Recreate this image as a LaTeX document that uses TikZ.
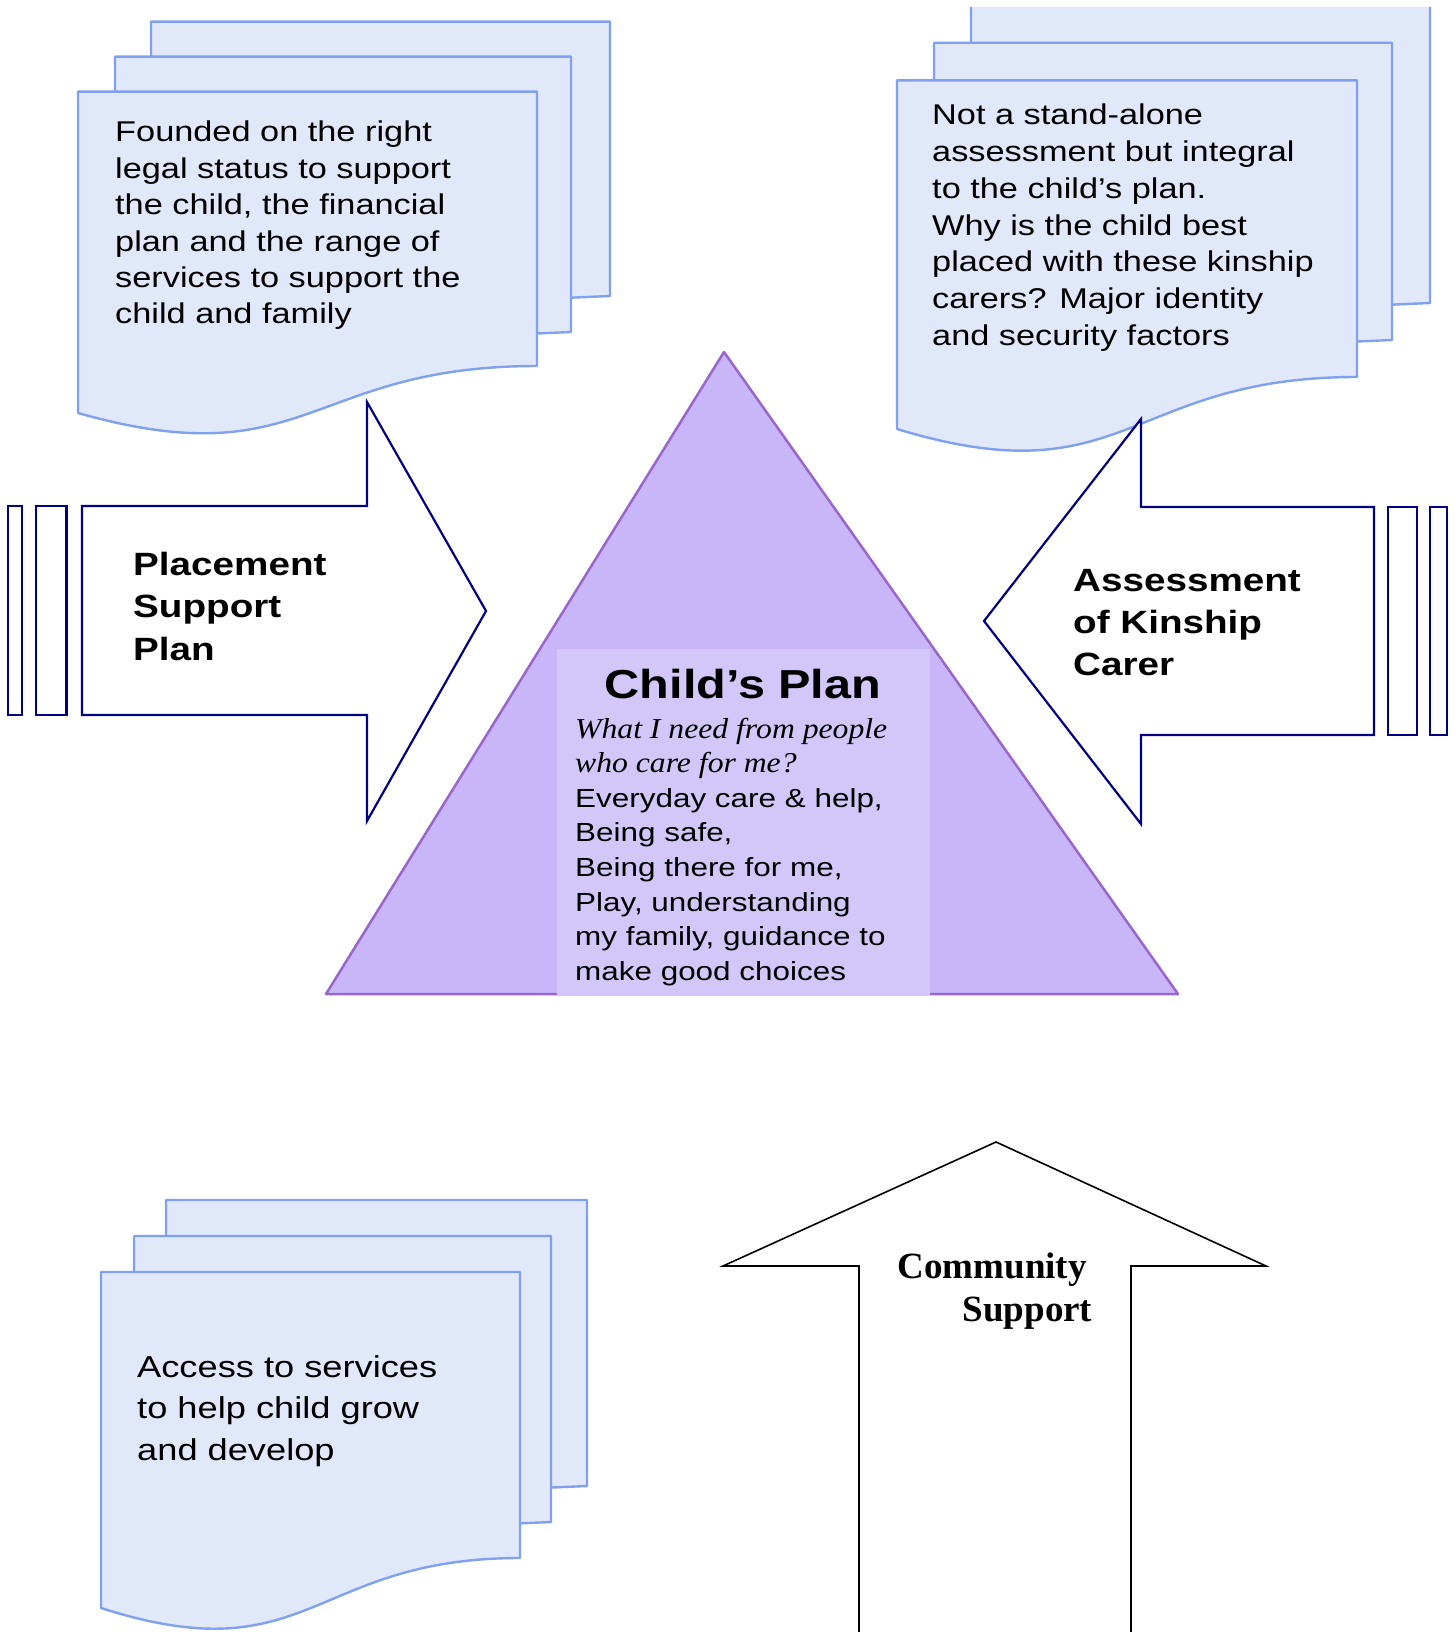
\documentclass[tikz,border=0pt]{standalone}
\usepackage{fontspec}
\newfontfamily\arialS[FakeStretch=1.2]{Liberation Sans}
\newfontfamily\timesI[FakeStretch=1.1]{Liberation Serif}
\newfontfamily\timesR{Liberation Serif}
\definecolor{docfill}{RGB}{225,232,250}
\definecolor{docline}{RGB}{128,160,240}
\definecolor{navyline}{RGB}{0,0,128}
\definecolor{trifill}{RGB}{200,182,248}
\definecolor{triline}{RGB}{153,102,204}
\definecolor{boxfill}{RGB}{211,199,249}
\newcommand\doctxt[2]{\arialS\fontsize{#1}{#2}\selectfont\raggedright}
\tikzset{
  docsheet/.style={fill=docfill, draw=docline, line width=2.4pt, line join=round},
  bigarrow/.style={fill=white, draw=navyline, line width=2.2pt, line join=miter},
  barbox/.style={fill=white, draw=navyline, line width=2.2pt},
  cmarrow/.style={fill=white, draw=black, line width=1.6pt, line join=miter},
  tri/.style={fill=trifill, draw=triline, line width=2.5pt, line join=round},
  txt/.style={inner sep=0pt, anchor=base west},
}
\begin{document}
\begin{tikzpicture}[x=1pt, y=-1pt]
\useasboundingbox (0,0) rectangle (1455,1632);
\fill[white] (0,0) rectangle (1455,1632);

% ---------- top-left document stack ----------
\path[docsheet] (151,21.7) -- (610,21.7) -- (610,296) -- (151,316) -- cycle;
\path[docsheet] (115,56.7) -- (571,56.7) -- (571,332) -- (115,352) -- cycle;
\path[docsheet] (78,91.7) -- (537,91.7) -- (537,366) .. controls (307.5,366) and (307.5,478) .. (78,413) -- cycle;
\node[txt] (tltext) at (115,142) {\parbox[t]{420pt}{\doctxt{28.6}{36.4}Founded on the right\\legal status to support\\the child, the financial\\plan and the range of\\services to support the\\child and family}};

% ---------- top-right document stack ----------
\fill[docfill] (971,7) -- (1430,7) -- (1430,303) -- (971,323) -- cycle;
\draw[docline, line width=2.4pt, line join=round] (971,7) -- (971,323) -- (1430,303) -- (1430,7);
\path[docsheet] (934,42.8) -- (1392,42.8) -- (1392,340) -- (934,360) -- cycle;
\path[docsheet] (897,80.4) -- (1357,80.4) -- (1357,377) .. controls (1127,377) and (1127,499) .. (897,429) -- cycle;
\node[txt] (trtext) at (932,125) {\parbox[t]{440pt}{\doctxt{28.6}{36.7}Not a stand-alone\\assessment but integral\\to the child’s plan.\\Why is the child best\\placed with these kinship\\carers? Major identity\\and security factors}};

% ---------- bottom-left document stack ----------
\path[docsheet] (166,1200) -- (587,1200) -- (587,1486) -- (166,1504) -- cycle;
\path[docsheet] (134,1236) -- (551,1236) -- (551,1522) -- (134,1540) -- cycle;
\path[docsheet] (101,1272) -- (520,1272) -- (520,1558) .. controls (310.5,1558) and (310.5,1675) .. (101,1608) -- cycle;
\node[txt] (bltext) at (137,1377) {\parbox[t]{400pt}{\doctxt{30.2}{41.5}Access to services\\to help child grow\\and develop}};

% ---------- triangle ----------
\path[tri] (724,352) -- (1178,994) -- (326,994) -- cycle;
\fill[boxfill] (557,649) rectangle (930,994.5);
\node[inner sep=0pt, anchor=base] (cptitle) at (743,698) {\arialS\bfseries\fontsize{40.5}{46}\selectfont Child’s Plan};
\node[txt] (cpbody) at (575,738) {\parbox[t]{380pt}{\raggedright\fontsize{26.2}{34.6}\selectfont
  {\timesI\itshape\fontsize{28.8}{34.6}\selectfont What I need from people\\who care for me?}\\
  {\arialS\fontsize{26.2}{34.6}\selectfont Everyday care \& help,\\Being safe,\\Being there for me,\\Play, understanding\\my family, guidance to\\make good choices}}};

% ---------- left arrow ----------
\path[barbox] (8,506) rectangle (22,715);
\path[barbox] (36,506) rectangle (66.5,715);
\path[bigarrow] (82,506) -- (367,506) -- (367,402) -- (486,611) -- (367,821) -- (367,715) -- (82,715) -- cycle;
\node[txt] (pstext) at (133,575) {\parbox[t]{300pt}{\doctxt{32.2}{42.5}\bfseries Placement\\Support\\Plan}};

% ---------- right arrow ----------
\path[barbox] (1388,507) rectangle (1417,735);
\path[barbox] (1430,507) rectangle (1447,735);
\path[bigarrow] (1374,507) -- (1141,507) -- (1141,419) -- (984,621) -- (1141,824) -- (1141,735) -- (1374,735) -- cycle;
\node[txt] (aktext) at (1073,591.5) {\parbox[t]{300pt}{\doctxt{32.2}{42}\bfseries Assessment\\of Kinship\\Carer}};

% ---------- community arrow ----------
\path[cmarrow] (859,1645) -- (859,1266) -- (723,1266) -- (996,1142) -- (1266,1266) -- (1131,1266) -- (1131,1645);
\node[txt] (cstext) at (897.5,1278) {\parbox[t]{300pt}{\raggedright\timesR\bfseries\fontsize{37}{43}\selectfont Community\\\hspace*{65pt}Support}};
\end{tikzpicture}
\end{document}
